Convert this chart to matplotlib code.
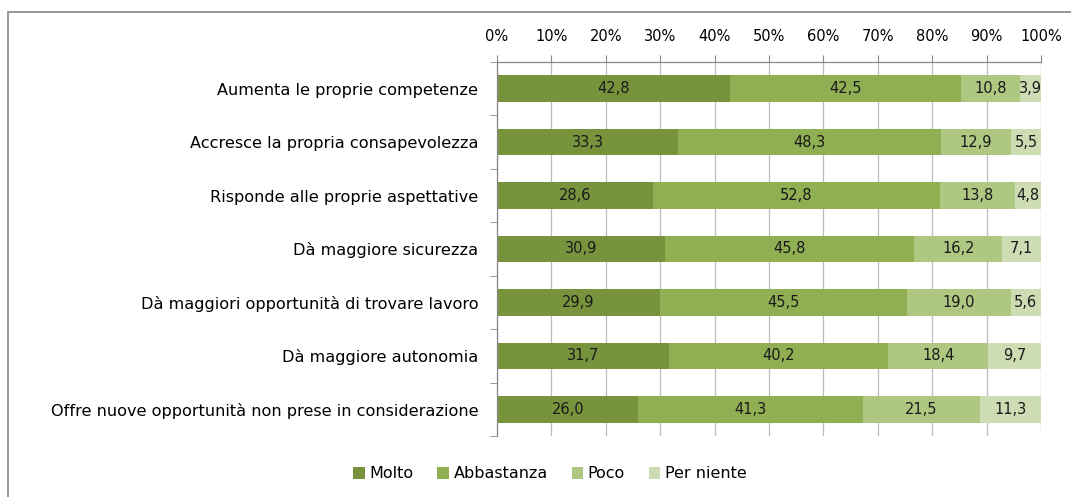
import matplotlib
matplotlib.use("Agg")
import matplotlib.pyplot as plt
from matplotlib.patches import Rectangle
import numpy as np

categories = [
    "Aumenta le proprie competenze",
    "Accresce la propria consapevolezza",
    "Risponde alle proprie aspettative",
    "Dà maggiore sicurezza",
    "Dà maggiori opportunità di trovare lavoro",
    "Dà maggiore autonomia",
    "Offre nuove opportunità non prese in considerazione",
]
series_names = ["Molto", "Abbastanza", "Poco", "Per niente"]
molto = [42.8, 33.3, 28.6, 30.9, 29.9, 31.7, 26.0]
abbastanza = [42.5, 48.3, 52.8, 45.8, 45.5, 40.2, 41.3]
poco = [10.8, 12.9, 13.8, 16.2, 19.0, 18.4, 21.5]
per_niente = [3.9, 5.5, 4.8, 7.1, 5.6, 9.7, 11.3]
colors = ["#77933C", "#8FAF52", "#AEC781", "#CEDCB4"]

fig = plt.figure(figsize=(10.71, 4.97), dpi=100)
W, H = 1071, 497
ax = fig.add_axes([497 / W, 1 - 436 / H, (1041 - 497) / W, (436 - 62) / H])

y = np.arange(len(categories))
left = np.zeros(len(categories))
for name, vals, c in zip(series_names, [molto, abbastanza, poco, per_niente], colors):
    vals = np.array(vals)
    ax.barh(y, vals, left=left, height=0.5, color=c, label=name, zorder=2)
    for yi, l, v in zip(y, left, vals):
        ax.text(l + v / 2, yi, f"{v:.1f}".replace(".", ","), ha="center", va="center",
                fontsize=10.5, color="#1a1a1a", zorder=3)
    left += vals

ax.set_xlim(0, 100)
ax.set_ylim(len(categories) - 0.5, -0.5)
ax.xaxis.tick_top()
ax.set_xticks(np.arange(0, 101, 10))
ax.set_xticklabels([f"{t}%" for t in range(0, 101, 10)], fontsize=10.5)
ax.set_yticks(y)
ax.set_yticklabels(categories, fontsize=11.6)
ax.set_yticks(np.arange(-0.5, len(categories), 1), minor=True)
ax.tick_params(axis="y", which="major", length=0, pad=13.5)
ax.tick_params(axis="y", which="minor", length=5, color="#888888", direction="out")
ax.tick_params(axis="x", length=5, color="#888888", direction="out", pad=8)
ax.grid(axis="x", color="#bbbbbb", linewidth=0.9, zorder=0)
for s in ["right", "bottom"]:
    ax.spines[s].set_visible(False)
for s in ["left", "top"]:
    ax.spines[s].set_color("#888888")
    ax.spines[s].set_linewidth(0.9)

fig.legend(loc="center", bbox_to_anchor=(550 / W, 1 - 474 / H), ncol=4, frameon=False,
           fontsize=11.5, handlelength=0.7, handleheight=0.7, handletextpad=0.3,
           columnspacing=1.5)

fig.patches.append(Rectangle((8 / W, -0.1), 1.2, 1 - 12 / H + 0.1, transform=fig.transFigure,
                             fill=False, edgecolor="#888888", linewidth=1.2))

fig.savefig("out.png", dpi=100)
